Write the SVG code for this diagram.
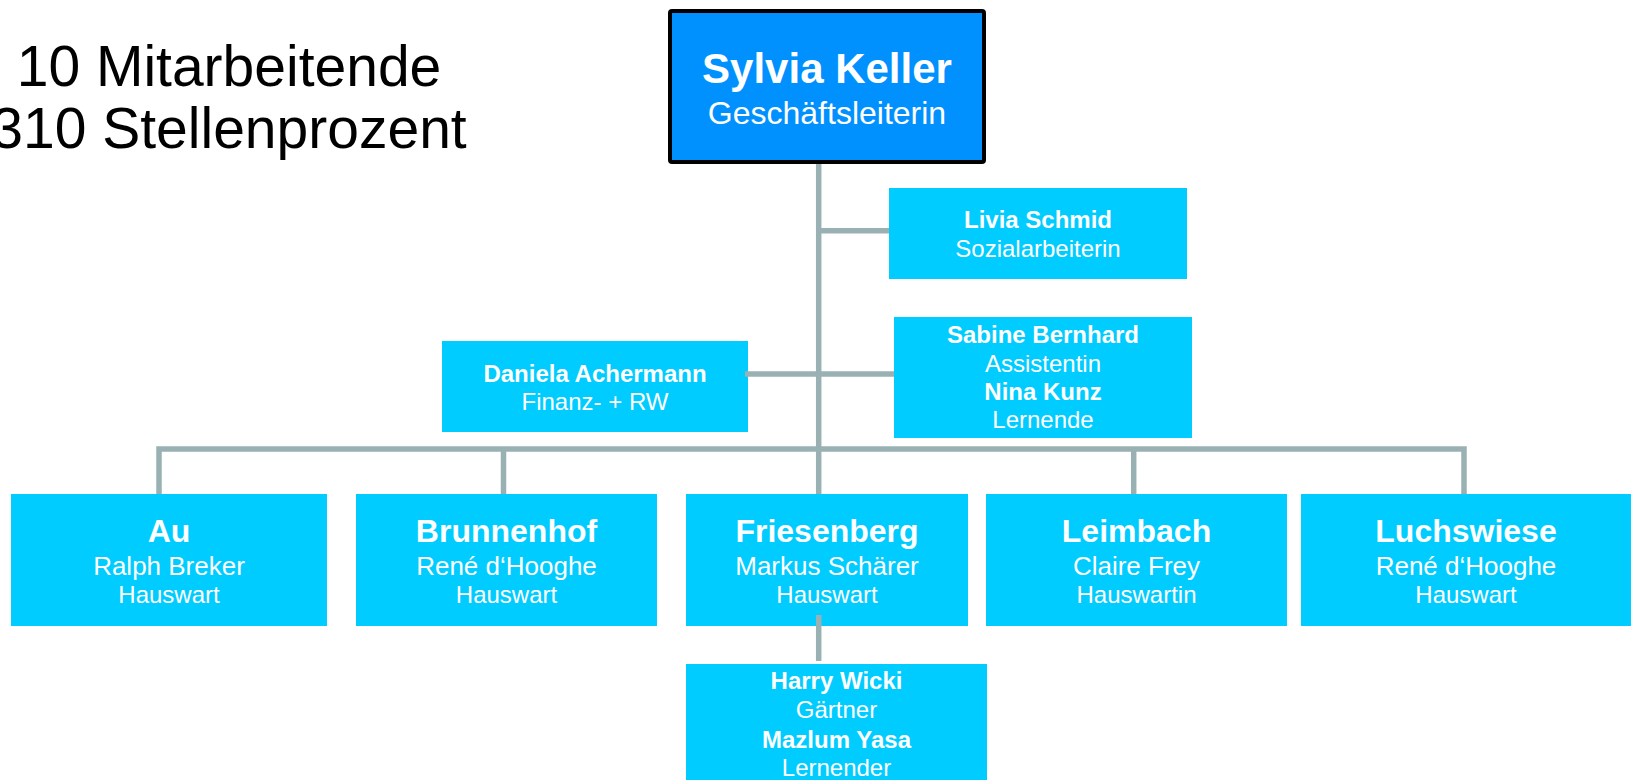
<svg xmlns="http://www.w3.org/2000/svg" width="1631" height="780" viewBox="0 0 1631 780">
<style>
.t{font-family:"Liberation Sans",Arial,sans-serif;fill:#fff;text-anchor:middle}
.b{font-weight:bold}
.box{fill:#00CCFF}
.con{stroke:#9AB1B4;stroke-width:5.5;fill:none}
.info{font-family:"Liberation Sans",Arial,sans-serif;fill:#000;font-size:57px;text-anchor:middle}
</style>
<rect width="1631" height="780" fill="#fff"/>
<g id="info">
<text class="info" x="229" y="86">10 Mitarbeitende</text>
<text class="info" x="229" y="148">310 Stellenprozent</text>
</g>
<g id="sylvia">
<rect x="670" y="11" width="314" height="151" rx="2" fill="#0091FF" stroke="#000" stroke-width="4"/>
<text class="t b" x="827" y="83" font-size="42">Sylvia Keller</text>
<text class="t" x="827" y="124" font-size="32">Geschäftsleiterin</text>
</g>
<g id="livia">
<rect class="box" x="889" y="188" width="298" height="91"/>
<text class="t b" x="1038" y="228" font-size="24">Livia Schmid</text>
<text class="t" x="1038" y="257" font-size="24">Sozialarbeiterin</text>
</g>
<g id="daniela">
<rect class="box" x="442" y="341" width="306" height="91"/>
<text class="t b" x="595" y="382" font-size="24">Daniela Achermann</text>
<text class="t" x="595" y="410" font-size="24">Finanz- + RW</text>
</g>
<g id="sabine">
<rect class="box" x="894" y="317" width="298" height="121"/>
<text class="t b" x="1043" y="343" font-size="24">Sabine Bernhard</text>
<text class="t" x="1043" y="372" font-size="24">Assistentin</text>
<text class="t b" x="1043" y="400" font-size="24">Nina Kunz</text>
<text class="t" x="1043" y="428" font-size="24">Lernende</text>
</g>
<g id="au">
<rect class="box" x="11" y="494" width="316" height="132"/>
<text class="t b" x="169" y="542" font-size="32">Au</text>
<text class="t" x="169" y="575" font-size="26">Ralph Breker</text>
<text class="t" x="169" y="603" font-size="24">Hauswart</text>
</g>
<g id="brunnenhof">
<rect class="box" x="356" y="494" width="301" height="132"/>
<text class="t b" x="506.5" y="542" font-size="32">Brunnenhof</text>
<text class="t" x="506.5" y="575" font-size="26">René d‘Hooghe</text>
<text class="t" x="506.5" y="603" font-size="24">Hauswart</text>
</g>
<g id="friesenberg">
<rect class="box" x="686" y="494" width="282" height="132"/>
<text class="t b" x="827" y="542" font-size="32">Friesenberg</text>
<text class="t" x="827" y="575" font-size="26">Markus Schärer</text>
<text class="t" x="827" y="603" font-size="24">Hauswart</text>
</g>
<g id="leimbach">
<rect class="box" x="986" y="494" width="301" height="132"/>
<text class="t b" x="1136.5" y="542" font-size="32">Leimbach</text>
<text class="t" x="1136.5" y="575" font-size="26">Claire Frey</text>
<text class="t" x="1136.5" y="603" font-size="24">Hauswartin</text>
</g>
<g id="luchswiese">
<rect class="box" x="1301" y="494" width="330" height="132"/>
<text class="t b" x="1466" y="542" font-size="32">Luchswiese</text>
<text class="t" x="1466" y="575" font-size="26">René d‘Hooghe</text>
<text class="t" x="1466" y="603" font-size="24">Hauswart</text>
</g>
<g id="harry">
<rect class="box" x="686" y="664" width="301" height="130"/>
<text class="t b" x="836.5" y="689" font-size="24">Harry Wicki</text>
<text class="t" x="836.5" y="718" font-size="24">Gärtner</text>
<text class="t b" x="836.5" y="747.5" font-size="24">Mazlum Yasa</text>
<text class="t" x="836.5" y="776" font-size="24">Lernender</text>
</g>
<g id="connectors">
<line class="con" x1="818.7" y1="164" x2="818.7" y2="494"/>
<line class="con" x1="818.7" y1="230.7" x2="889" y2="230.7"/>
<line class="con" x1="745" y1="374" x2="894" y2="374"/>
<path class="con" d="M159,494 V449 H1464 V494"/>
<line class="con" x1="503.5" y1="449" x2="503.5" y2="494"/>
<line class="con" x1="1133.7" y1="449" x2="1133.7" y2="494"/>
<line class="con" x1="818.7" y1="615" x2="818.7" y2="661" stroke="#A0AEB0" stroke-width="6"/>
</g>
</svg>
